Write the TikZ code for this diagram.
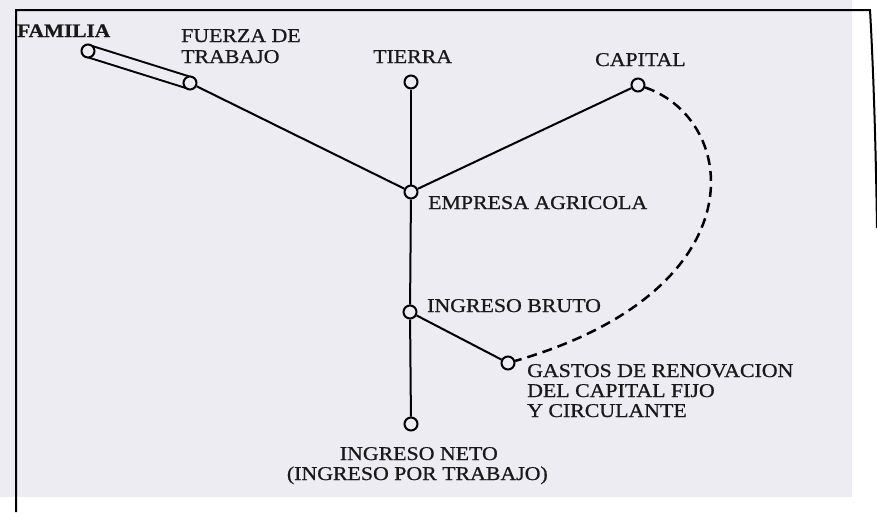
\documentclass[tikz,border=0pt]{standalone}
\usepackage{fontspec}
\setmainfont[FakeStretch=1.12,FakeBold=0.8]{Liberation Serif}
\definecolor{bg}{RGB}{236,236,242}
\begin{document}
\begin{tikzpicture}[x=1pt,y=-1pt,
 dot/.style={circle,draw,line width=2pt,minimum size=13pt,inner sep=0pt,fill=bg},
 lbl/.style={font=\fontsize{19.5}{21}\selectfont,inner sep=0pt,text=black!90},
 link/.style={line width=2pt},
 dashlink/.style={line width=2.5pt,dash pattern=on 10pt off 6pt}]
\useasboundingbox (0,0) rectangle (877,512);
\fill[bg] (0,0) rectangle (852,497);
\draw[line width=2pt] (16,512) -- (16,10) -- (870,10) .. controls (874,80) and (876,160) .. (877,228);
% capsule between familia and fuerza de trabajo
\coordinate (famc) at (88,51);
\coordinate (fuec) at (190,83);
\draw[line width=2pt,double=bg,double distance=10pt] (famc) -- (fuec);
% points
\node[dot] (fam) at (famc) {};
\node[dot] (fue) at (fuec) {};
\node[dot] (tie) at (411,82) {};
\node[dot] (cap) at (638,85) {};
\node[dot] (emp) at (411,192) {};
\node[dot] (bru) at (410,312) {};
\node[dot] (gas) at (508,363) {};
\node[dot] (net) at (411,424) {};
% connectors
\draw[link] (fue) -- (emp);
\draw[link] (tie) -- (emp);
\draw[link] (cap) -- (emp);
\draw[link] (emp) -- (bru);
\draw[link] (bru) -- (net);
\draw[link] (bru) -- (gas);
\draw[dashlink] (cap) .. controls (740,120) and (760,290) .. (gas);
% labels
\node[lbl,font=\fontsize{19}{21}\selectfont\bfseries,anchor=base west] (lfam) at (17,37) {FAMILIA};
\node[lbl,anchor=base west] (lfue1) at (181,42) {FUERZA DE};
\node[lbl,anchor=base west] (lfue2) at (181,63) {TRABAJO};
\node[lbl,anchor=base west] (ltie) at (373,63) {TIERRA};
\node[lbl,anchor=base west] (lcap) at (595,66) {CAPITAL};
\node[lbl,anchor=base west] (lemp) at (428,209) {EMPRESA AGRICOLA};
\node[lbl,anchor=base west] (lbru) at (427,312) {INGRESO BRUTO};
\node[lbl,anchor=base west] (lgas1) at (527,377) {GASTOS DE RENOVACION};
\node[lbl,anchor=base west] (lgas2) at (527,397) {DEL CAPITAL FIJO};
\node[lbl,anchor=base west] (lgas3) at (527,417) {Y CIRCULANTE};
\node[lbl,anchor=base east] (lnet1) at (498,460) {INGRESO NETO};
\node[lbl,anchor=base east] (lnet2) at (548,480) {(INGRESO POR TRABAJO)};
\end{tikzpicture}
\end{document}
